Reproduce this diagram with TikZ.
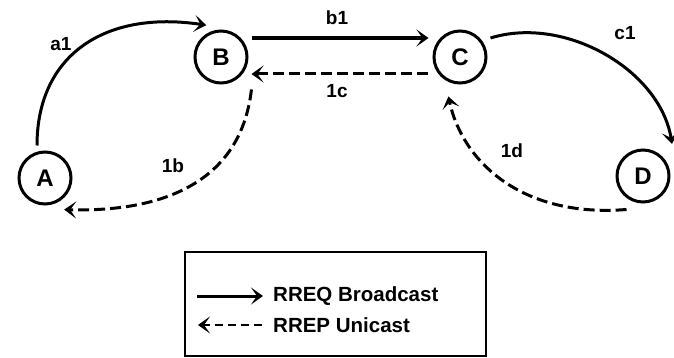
\documentclass[tikz,border=0pt]{standalone}
\usepackage{fontspec}
\setmainfont{Liberation Sans}
\usetikzlibrary{arrows.meta}
\begin{document}
\begin{tikzpicture}[x=1pt,y=-1pt,
  nodecirc/.style={circle,draw,line width=3pt,minimum size=52pt,inner sep=0pt,
    font=\fontsize{24}{24}\selectfont\bfseries},
  edgelbl/.style={font=\fontsize{19}{19}\selectfont\bfseries},
  legtxt/.style={font=\fontsize{20.5}{20.5}\selectfont\bfseries,anchor=west,inner sep=0pt},
  tip/.style={-{Stealth[length=12pt,width=17pt,inset=6pt]}},
  req/.style={tip,line width=3pt},
  rep/.style={tip,line width=3pt,dash pattern=on 11pt off 5pt},
]
\useasboundingbox (0,0) rectangle (674,358);
\node[nodecirc] (A) at (45,178) {A};
\node[nodecirc] (B) at (221,57) {B};
\node[nodecirc] (C) at (460,57) {C};
\node[nodecirc] (D) at (643,176) {D};

% a1
\draw[req] ([xshift=-8pt,yshift=5pt]A.north) .. controls (37,55) and (105,10) .. ([shift={(-1pt,8pt)}]B.120);
\node[edgelbl] (la1) at (61,44) {a1};
% b1
\draw[req,line width=4.5pt] ([xshift=3pt,yshift=19pt]B.east) -- ([xshift=-4pt,yshift=19pt]C.west);
\node[edgelbl] (lb1) at (337,18) {b1};
% 1c
\draw[rep] ([xshift=-5pt,yshift=-17pt]C.west) -- ([xshift=3pt,yshift=-17pt]B.east);
\node[edgelbl] (l1c) at (337,91) {1c};
% 1b
\draw[rep] ([xshift=11pt,yshift=-13pt]B.south east) .. controls (240,190) and (150,212) .. ([xshift=5pt,yshift=-8pt]A.-59);
\node[edgelbl] (l1b) at (173,166) {1b};
% c1
\draw[req] ([xshift=3pt,yshift=19pt]C.east) .. controls (565,15) and (660,70) .. ([shift={(10.6pt,11.7pt)}]D.48);
\node[edgelbl] (lc1) at (625,33) {c1};
% 1d
\draw[rep] ([shift={(-4pt,-9pt)}]D.-117) .. controls (520,218) and (462,160) .. ([shift={(-4pt,-13pt)}]C.-106);
\node[edgelbl] (l1d) at (512,151) {1d};

% legend
\node[draw,line width=2pt,minimum width=301pt,minimum height=104pt,inner sep=0pt] (leg) at (335.5,303.5) {};
\coordinate (s1) at (197,296);
\coordinate (e1) at (263,296);
\coordinate (s2) at (262,325);
\coordinate (e2) at (198,325);
\draw[req] (s1) -- (e1);
\draw[rep,line width=2.6pt,dash pattern=on 8pt off 5pt] (s2) -- (e2);
\node[legtxt] (t1) at (273,296) {RREQ Broadcast};
\node[legtxt] (t2) at (273,325) {RREP Unicast};
\end{tikzpicture}
\end{document}
